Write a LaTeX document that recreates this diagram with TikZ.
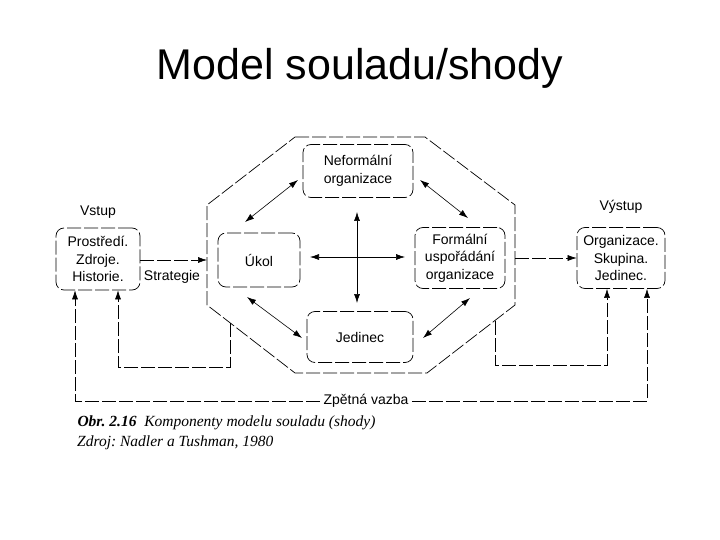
\documentclass[tikz,border=0pt]{standalone}
\usepackage{fontspec}
\setmainfont{Liberation Sans}
\newfontfamily\capfont{Liberation Serif}
\usetikzlibrary{positioning,arrows.meta}
\frenchspacing

\begin{document}
\begin{tikzpicture}[x=1pt, y=-1pt,
    dline/.style={line width=0.7pt, dash pattern=on 14pt off 3pt},
    box/.style={dline, draw, rounded corners=8pt, align=center,
      font=\fontsize{14}{17.5}\selectfont, inner sep=0pt},
    lbl/.style={font=\fontsize{14}{17}\selectfont},
    arr/.style={line width=0.6pt, -{Latex[length=9pt,width=6pt]}},
    darr/.style={line width=0.6pt, {Latex[length=9pt,width=6pt]}-{Latex[length=9pt,width=6pt]}}]
  \useasboundingbox (0,0) rectangle (720,540);
  % title
  \node[font=\fontsize{43}{50}\selectfont] (title) at (360,68) {Model souladu/shody};
  % octagon
  \coordinate (o1) at (295,137);
  \coordinate (o2) at (425,137);
  \coordinate (o3) at (515,205);
  \coordinate (o4) at (515,305);
  \coordinate (o5) at (427,373);
  \coordinate (o6) at (295,373);
  \coordinate (o7) at (207,305);
  \coordinate (o8) at (207,205);
  \draw[dline] (o1) -- (o2) -- (o3) -- (o4) -- (o5) -- (o6) -- (o7) -- (o8) -- cycle;
  % inner boxes
  \node[box, minimum width=110pt, minimum height=53pt] (neform) at (358,171) {Neformální\\organizace};
  \node[box, minimum width=82pt, minimum height=54pt] (ukol) at (259,260) {Úkol};
  \node[box, minimum width=90pt, minimum height=61pt] (form) at (460,258) {Formální\\uspořádání\\organizace};
  \node[box, minimum width=106pt, minimum height=51pt] (jedinec) at (360,337) {Jedinec};
  % input and output
  \node[box, minimum width=84pt, minimum height=62pt] (vstup) at (98,259) {Prostředí.\\Zdroje.\\Historie.};
  \node[box, minimum width=88pt, minimum height=61pt] (vystup) at (621,258) {Organizace.\\Skupina.\\Jedinec.};
  \node[lbl, above=6pt of vstup] (vstuplbl) {Vstup};
  \node[lbl, above=10pt of vystup] (vystuplbl) {Výstup};
  \coordinate (inL) at (207,260);
  \coordinate (outR) at (515,258);
  \draw[dline, arr] (vstup.east |- inL) -- (inL);
  \draw[dline, arr] (outR) -- (vystup.west |- outR);
  \node[lbl] (strat) at (172,277) {Strategie};
  % arrows between components
  \draw[darr] (245,222) -- (298,180);
  \draw[darr] (420,180) -- (468,218);
  \draw[darr] (247,297) -- (302,338);
  \draw[darr] (470,298) -- (423,338);
  \draw[darr] (310,257) -- (405,257);
  \draw[darr] (357,212) -- (357,303);
  % feedback
  \coordinate (fbL) at (230,323);
  \coordinate (fbLc) at (230,367);
  \coordinate (fbR) at (495,321);
  \coordinate (fbRc) at (495,365);
  \draw[dline, arr] (fbL) -- (fbLc) -| ([xshift=20pt]vstup.south);
  \draw[dline, arr] (fbR) -- (fbRc) -| ([xshift=-14pt]vystup.south);
  \node[lbl] (zpet) at (366,401) {Zpětná vazba};
  \coordinate (fbO1) at (75,400);
  \coordinate (fbO2) at (647,400);
  \draw[dline, arr] (zpet.west) -- (zpet.west -| fbO1) -- ([xshift=-23pt]vstup.south);
  \draw[dline, arr] (zpet.east) -- (zpet.east -| fbO2) -- ([xshift=26pt]vystup.south);
  % caption
  \node[anchor=west, font=\capfont\itshape\fontsize{15.5}{18}\selectfont] (cap1) at (74,423)
    {\textbf{Obr. 2.16}\ \ Komponenty modelu souladu (shody)};
  \node[anchor=north west, font=\capfont\itshape\fontsize{15.5}{18}\selectfont, inner sep=0pt] (cap2) at ([xshift=3pt,yshift=-2pt]cap1.south west)
    {Zdroj: Nadler a Tushman, 1980};
\end{tikzpicture}
\end{document}
